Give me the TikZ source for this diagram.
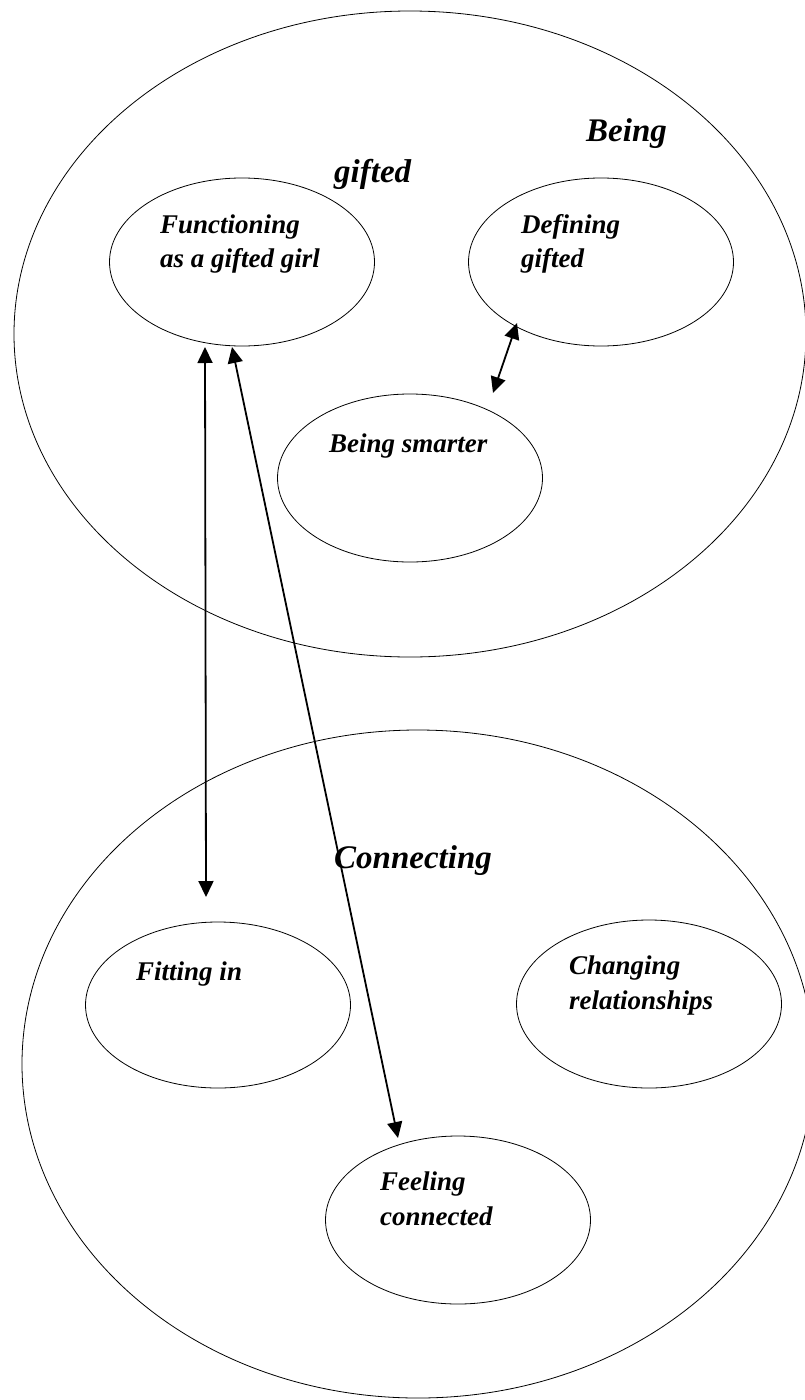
\documentclass[tikz,border=0pt]{standalone}
\usepackage{fontspec}
\setmainfont{Liberation Serif}
\usetikzlibrary{shapes.geometric,arrows.meta}
\begin{document}
\begin{tikzpicture}[x=1pt,y=-1pt,
  oval/.style={draw, ellipse, line width=0.8pt, inner sep=0pt, outer sep=0pt},
  bigoval/.style={oval},
  topic/.style={oval, minimum width=265pt, minimum height=168pt},
  lbl/.style={anchor=base west, inner sep=0pt, font=\fontsize{27}{34}\selectfont\bfseries\itshape},
  theme/.style={anchor=base west, inner sep=0pt, font=\fontsize{33}{40}\selectfont\bfseries\itshape},
  link/.style={line width=1.8pt, {Triangle[length=16pt,width=15pt]}-{Triangle[length=16pt,width=15pt]}}]
\useasboundingbox (0,0) rectangle (805,1400);

% the two themes
\node[bigoval, minimum width=792pt, minimum height=646pt] (gifted) at (410,334) {};
\node[bigoval, minimum width=792pt, minimum height=668pt] (connecting) at (418,1064) {};

% sub-categories of "Being gifted"
\node[topic] (functioning) at (242,262) {};
\node[topic] (defining) at (601,262) {};
\node[topic] (smarter) at (410,478) {};

% sub-categories of "Connecting"
\node[topic, minimum height=166pt] (fitting) at (218,1005) {};
\node[topic] (changing) at (649,1004) {};
\node[topic] (feeling) at (458,1220) {};

% theme titles
\node[theme] (t1a) at (586,141) {Being};
\node[theme] (t1b) at (334,182) {gifted};
\node[theme] (t2) at (334,868) {Connecting};

% sub-category labels
\node[lbl] (l1a) at (160,233) {Functioning};
\node[lbl] (l1b) at (160,267) {as a gifted girl};
\node[lbl] (l2a) at (521,233) {Defining};
\node[lbl] (l2b) at (521,267) {gifted};
\node[lbl] (l3) at (329,452) {Being smarter};
\node[lbl] (l4) at (136,980) {Fitting in};
\node[lbl] (l5a) at (569,974) {Changing};
\node[lbl] (l5b) at (569,1009) {relationships};
\node[lbl] (l6a) at (380,1190) {Feeling};
\node[lbl] (l6b) at (380,1225) {connected};

% arrow end points
\coordinate (fA) at (205,347);
\coordinate (fB) at (232,347);
\coordinate (dA) at (517,323);
\coordinate (sA) at (493,393);
\coordinate (iA) at (206,897);
\coordinate (cA) at (398,1138);

% relations
\draw[link] (fA) -- (iA);
\draw[link] (fB) -- (cA);
\draw[link] (dA) -- (sA);
\end{tikzpicture}
\end{document}
